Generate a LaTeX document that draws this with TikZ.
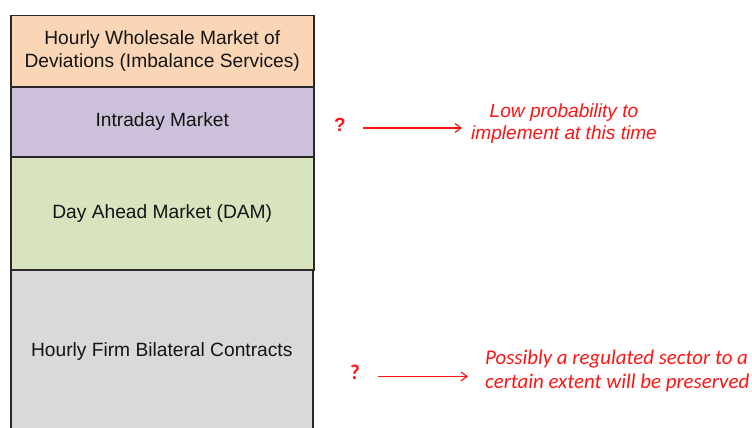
\documentclass[tikz,border=0pt]{standalone}
\usepackage{fontspec}
\setmainfont{Liberation Sans}
\newfontfamily\calibri{Carlito}
\usetikzlibrary{arrows.meta}
\definecolor{boxorange}{RGB}{251,214,182}
\definecolor{boxpurple}{RGB}{204,192,218}
\definecolor{boxgreen}{RGB}{216,228,190}
\definecolor{boxgray}{RGB}{217,217,217}
\definecolor{boxline}{RGB}{40,40,40}
\definecolor{notered}{RGB}{255,20,20}
\tikzset{
  layer/.style={draw=boxline, line width=1.5pt, minimum width=303pt,
    anchor=north west, inner sep=0pt, align=center,
    font=\fontsize{19.2}{23}\selectfont, text=black!92},
  qmark/.style={text=notered, inner sep=0pt},
  note/.style={text=notered, inner sep=0pt},
  arr/.style={draw=notered, line width=1.2pt, -{Straight Barb[length=6pt,width=9pt]}}
}
\begin{document}
\begin{tikzpicture}[x=1pt,y=-1pt]
\useasboundingbox (0,0) rectangle (752,428);
% stacked market layers, top to bottom
\node[layer, fill=boxorange, minimum height=71pt] (whole) at (10,15)
  {Hourly Wholesale Market of\\Deviations (Imbalance Services)};
\node[layer, fill=boxpurple, minimum height=70pt] (intra) at (10,86) {Intraday Market};
\node[layer, fill=boxgreen, minimum height=113pt] (dam) at (10,156) {Day Ahead Market (DAM)};
\node[layer, fill=boxgray, minimum height=163pt, minimum width=302pt] (bilat) at (10,269)
  {Hourly Firm Bilateral Contracts};
% remark on the intraday market
\node[qmark, font=\fontsize{19}{19}\selectfont\bfseries] (q1) at (340,125) {?};
\node[note, align=center, font=\fontsize{19.1}{22}\selectfont\itshape] (n1) at (564,124)
  {Low probability to\\implement at this time};
\coordinate (a1s) at (363,128);
\coordinate (a1e) at (462,128);
\draw[arr] (a1s) -- (a1e);
% remark on the bilateral contracts
\node[qmark, font=\calibri\fontsize{21}{21}\selectfont\bfseries] (q2) at (355,372) {?};
\node[note, align=left, anchor=west, font=\calibri\fontsize{20.9}{24}\selectfont\itshape] (n2) at (485,371)
  {Possibly a regulated sector to a\\certain extent will be preserved};
\coordinate (a2s) at (378,376.5);
\coordinate (a2e) at (468,376.5);
\draw[arr] (a2s) -- (a2e);
\end{tikzpicture}
\end{document}
